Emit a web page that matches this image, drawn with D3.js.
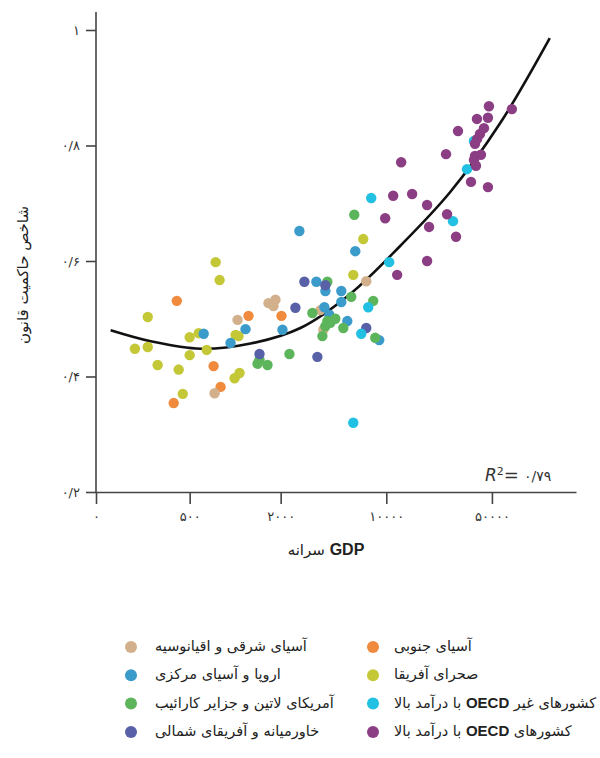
<!DOCTYPE html>
<html>
<head>
<meta charset="utf-8">
<script src="https://cdn.jsdelivr.net/npm/d3@7"></script>
<style>
  html, body { margin: 0; padding: 0; background: #fff; }
  svg { display: block; font-family: "DejaVu Sans", sans-serif; }
</style>
</head>
<body>
<svg id="chart" width="600" height="758"></svg>
<script>
// ---- data: [GDP per capita, rule-of-law index] ----
const southAsia = [[411,0.531],[1226,0.505],[2025,0.505],[720,0.418],[801,0.382],[392,0.354]];
const africa = [[743,0.598],[789,0.567],[264,0.503],[217,0.448],[264,0.451],[307,0.420],[423,0.412],
  [450,0.370],[500,0.468],[574,0.475],[500,0.437],[648,0.446],[1006,0.472],[1053,0.470],
  [991,0.397],[1069,0.406],[6047,0.576],[7040,0.638]];
const eastAsia = [[1037,0.498],[731,0.371],[1662,0.527],[1848,0.533],[1793,0.522],[3662,0.515],[3834,0.481],[7368,0.565]];
const europe = [[619,0.474],[932,0.458],[1171,0.482],[2056,0.481],[2661,0.652],[3446,0.564],[3953,0.548],
  [5038,0.548],[5038,0.529],[3893,0.520],[4200,0.507],[5521,0.496],[6234,0.617],[8979,0.463]];
const latinAmerica = [[2287,0.439],[1406,0.422],[1449,0.429],[1637,0.420],[4074,0.564],[5866,0.538],
  [8195,0.531],[3243,0.510],[4074,0.496],[4600,0.500],[4264,0.493],[5194,0.484],[3776,0.470],
  [3953,0.487],[8448,0.467],[6140,0.680]];
const mena = [[1449,0.439],[2504,0.519],[2871,0.564],[3953,0.558],[7368,0.484],[3499,0.434]];
const nonOecdHigh = [[6047,0.320],[6829,0.474],[7595,0.520],[7949,0.709],[10450,0.598],[27640,0.669],[34200,0.759],[38030,0.808]];
const oecdHigh = [[11800,0.576],[18620,0.600],[9833,0.674],[11105,0.713],[14825,0.716],[12540,0.771],
  [18620,0.697],[25230,0.681],[19190,0.659],[28930,0.642],[24850,0.785],[36340,0.737],[47060,0.728],
  [38030,0.775],[39210,0.765],[38620,0.782],[42300,0.784],[38620,0.803],[39810,0.811],[41670,0.820],
  [44290,0.830],[29820,0.825],[39810,0.846],[47060,0.848],[47780,0.868],[67770,0.863]];

// trend line
const trendGDP = [150, 276, 591, 1264, 2702, 5778, 12350, 26410, 56470, 120700];
const trendValue = [0.480, 0.461, 0.448, 0.457, 0.484, 0.543, 0.626, 0.719, 0.838, 0.986];

const seriesNames = ["آسیای جنوبی", "صحرای آفریقا", "آسیای شرقی و اقیانوسیه", "اروپا و آسیای مرکزی",
  "آمریکای لاتین و جزایر کارائیب", "خاورمیانه و آفریقای شمالی",
  "کشورهای غیر OECD با درآمد بالا", "کشورهای OECD با درآمد بالا"];
const seriesData = [southAsia, africa, eastAsia, europe, latinAmerica, mena, nonOecdHigh, oecdHigh];

const yTicks = [0.2, 0.4, 0.6, 0.8, 1];
const yTickLabels = ["۰/۲", "۰/۴", "۰/۶", "۰/۸", "۱"];
const xTicks = [500, 2000, 10000, 50000];
const xTickLabels = ["۵۰۰", "۲۰۰۰", "۱۰۰۰۰", "۵۰۰۰۰"];
const xZeroLabel = "۰";
const r2Label = "۰/۷۹";

// ---- styles ----
const palette = ["#f08a3c", "#c4c837", "#d3b08c", "#3b9bcb", "#5db55b", "#5860a7", "#22c0e2", "#8c3e84"];
const svg = d3.select("#chart");

const x = d3.scaleLog().domain([120, 180000]).range([96, 576]);
const y = d3.scaleLinear().domain([0.2, 1]).range([492, 30]);

// axes
const axisColor = "#444";
const gx = svg.append("g").attr("transform", "translate(0,492)")
  .call(d3.axisBottom(x).tickValues([x.domain()[0]].concat(xTicks))
    .tickFormat((d, i) => i === 0 ? xZeroLabel : xTickLabels[i - 1])
    .tickSize(12).tickSizeOuter(0).tickPadding(8));
gx.select(".domain").attr("stroke", axisColor).attr("stroke-width", 1.6);
gx.selectAll(".tick line").attr("stroke", axisColor).attr("stroke-width", 1.6);
gx.selectAll(".tick text").attr("font-size", 13).attr("fill", "#333")
  .attr("font-family", "DejaVu Sans").style("letter-spacing", "3px");

const gy = svg.append("g").attr("transform", "translate(96,0)")
  .call(d3.axisLeft(y).tickValues(yTicks).tickFormat((d, i) => yTickLabels[i])
    .tickSize(10).tickSizeOuter(0).tickPadding(6));
gy.select(".domain").remove();
gy.append("line").attr("x1", 0).attr("x2", 0).attr("y1", 12).attr("y2", 492)
  .attr("stroke", axisColor).attr("stroke-width", 1.6);
gy.selectAll(".tick line").attr("stroke", axisColor).attr("stroke-width", 1.6);
gy.selectAll(".tick text").attr("font-size", 13).attr("fill", "#333")
  .attr("font-family", "DejaVu Sans").style("letter-spacing", "3px");

// axis titles
svg.append("text").attr("transform", "translate(23,275) rotate(-90)")
  .attr("text-anchor", "middle").attr("dominant-baseline", "middle")
  .attr("direction", "rtl").attr("font-size", 15).attr("fill", "#222")
  .text("شاخص حاکمیت قانون");

const xt = svg.append("text").attr("x", 326).attr("y", 555).attr("text-anchor", "middle")
  .attr("direction", "rtl").attr("font-size", 15).attr("fill", "#222");
xt.append("tspan").attr("font-family", "Liberation Sans Narrow, Liberation Sans").attr("font-weight", "bold").attr("font-size", 16).text("GDP");
xt.append("tspan").text(" سرانه");

// trend curve
const trend = trendGDP.map((g, i) => [g, trendValue[i]]);
svg.append("path").datum(trend)
  .attr("d", d3.line().x(d => x(d[0])).y(d => y(d[1])).curve(d3.curveCatmullRom.alpha(0.5)))
  .attr("fill", "none").attr("stroke", "#111").attr("stroke-width", 2.6);

// points
seriesData.forEach((arr, si) => {
  svg.append("g").selectAll("circle").data(arr).join("circle")
    .attr("cx", d => x(d[0])).attr("cy", d => y(d[1])).attr("r", 5.2)
    .attr("fill", palette[si]);
});

// R^2
const r2 = svg.append("text").attr("x", 485).attr("y", 481).attr("font-size", 16).attr("fill", "#333");
r2.append("tspan").attr("font-style", "italic").attr("font-family", "DejaVu Sans").attr("font-size", 17).text("R");
r2.append("tspan").attr("font-size", 11).attr("dy", -6).text("2");
r2.append("tspan").attr("dy", 6).attr("font-size", 18).text("=");
r2.append("tspan").attr("dx", 5).attr("font-size", 14).style("letter-spacing", "2px").text(r2Label);

// legend
const legendOrder = [
  {s: 0, col: 1, row: 0}, {s: 1, col: 1, row: 1}, {s: 6, col: 1, row: 2}, {s: 7, col: 1, row: 3},
  {s: 2, col: 0, row: 0}, {s: 3, col: 0, row: 1}, {s: 4, col: 0, row: 2}, {s: 5, col: 0, row: 3}
];
const colDot = [131, 373], colText = [155, 394];
legendOrder.forEach(o => {
  const ly = 647 + o.row * 28.3;
  svg.append("circle").attr("cx", colDot[o.col]).attr("cy", ly).attr("r", 6).attr("fill", palette[o.s]);
  const t = svg.append("text").attr("x", colText[o.col]).attr("y", ly).attr("dominant-baseline", "middle")
    .attr("direction", "rtl").attr("text-anchor", "end").attr("font-size", 14.5).attr("fill", "#222");
  const name = seriesNames[o.s];
  if (name.includes("OECD")) {
    const parts = name.split("OECD");
    t.append("tspan").text(parts[0]);
    t.append("tspan").attr("font-family", "Liberation Sans Narrow, Liberation Sans").attr("font-weight", "bold").attr("font-size", 15).text("OECD");
    t.append("tspan").text(parts[1]);
  } else {
    t.text(name);
  }
});
</script>
</body>
</html>
